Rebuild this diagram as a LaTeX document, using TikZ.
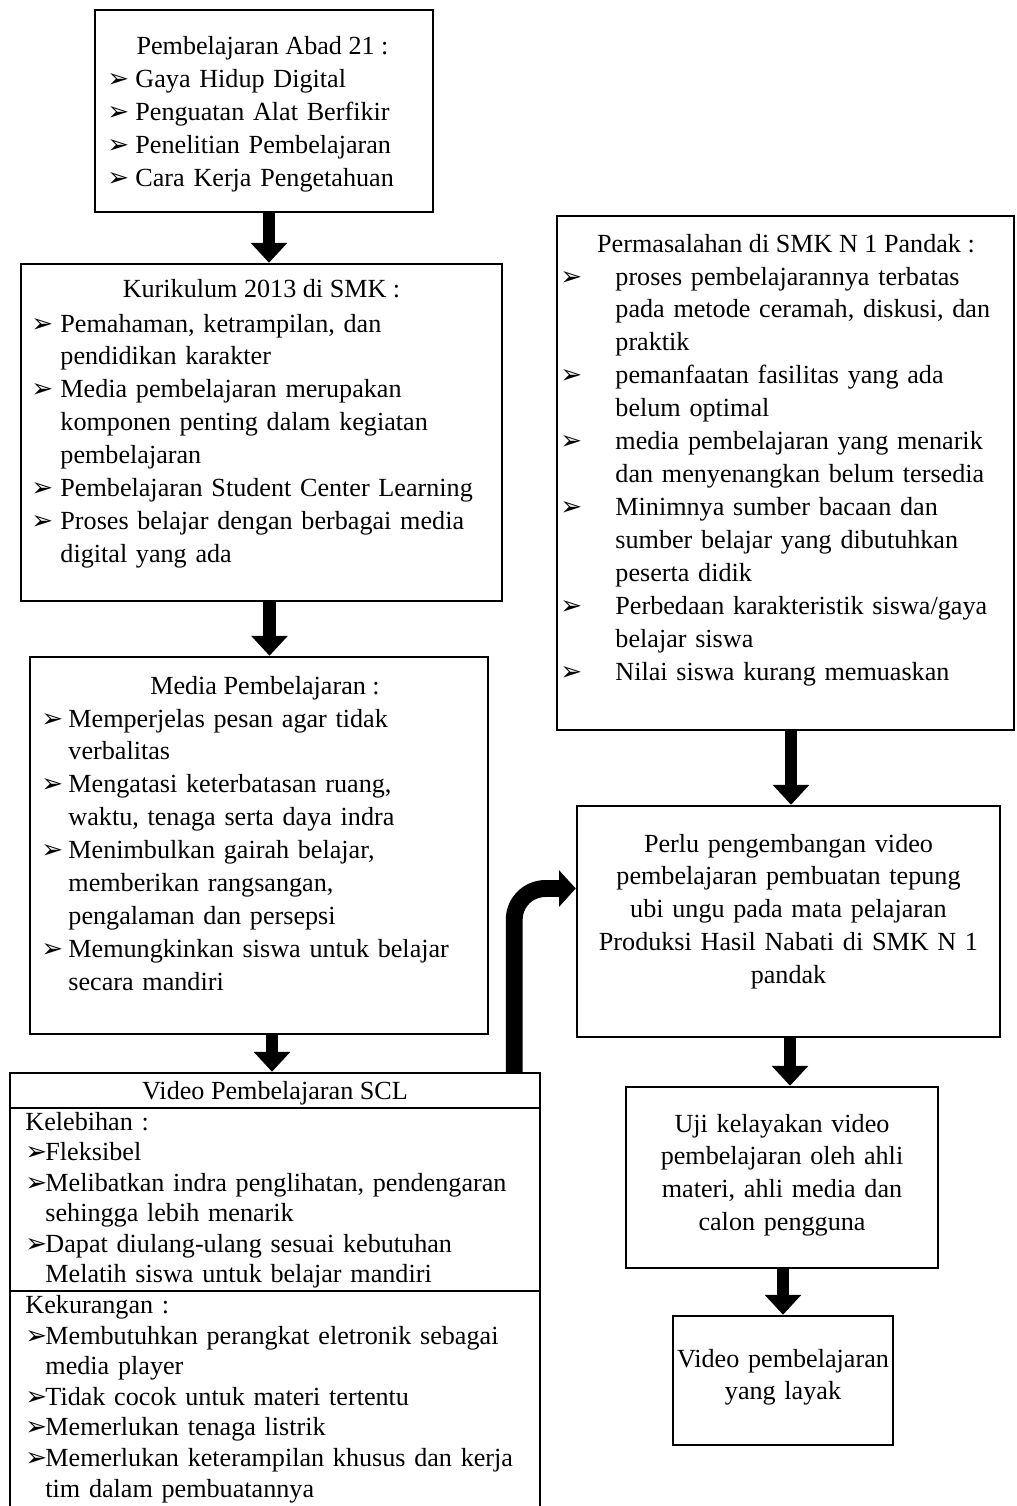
\documentclass[tikz,border=0pt]{standalone}
\usepackage{fontspec}
\setmainfont{Liberation Serif}
\newfontfamily\symfont{DejaVu Sans}
\usepackage{tikz}
\usetikzlibrary{arrows.meta, positioning, fit, calc}

\newlength\pxu \setlength\pxu{0.4494pt}
\newlength\bulw
\newcommand\bul{{\symfont ➢}}
\newcommand\itm{\makebox[\bulw][l]{\bul}}
\newcommand\cnt{\hspace*{\bulw}}

\begin{document}
\begin{tikzpicture}[x=0.4494pt, y=-0.4494pt,
  box/.style={draw, line width=1.1pt, inner sep=0pt},
  ttl/.style={anchor=base, inner sep=0pt,
    font=\fontsize{11.75pt}{14.8pt}\selectfont},
  lst/.style={anchor=base west, inner sep=0pt, text width=600\pxu,
    align=left, font=\fontsize{11.75pt}{14.8pt}\selectfont\setlength\bulw{#1\pxu}},
  lsts/.style={lst=#1,
    font=\fontsize{11.75pt}{13.75pt}\selectfont\setlength\bulw{#1\pxu}},
  ctr/.style={anchor=base, inner sep=0pt, text width=460\pxu,
    align=center, font=\fontsize{11.75pt}{14.8pt}\selectfont},
  blk/.style={line width=5.8pt, -{Triangle[length=9pt, width=16pt]}},
  bendarr/.style={line width=7.6pt, rounded corners=14pt,
    -{Triangle[length=7.5pt, width=16pt]}}
]
  \useasboundingbox (0,0) rectangle (1017,1506);
  % Boxes
  \node[box, fit={(95,10) (433,212)}]     (abad)  {};
  \node[box, fit={(21,264) (502,601)}]    (kur)   {};
  \node[box, fit={(30,657) (488,1034)}]   (media) {};
  \node[box, fit={(557,216) (1014,730)}]  (perm)  {};
  \node[box, fit={(577,806) (1000,1037)}] (perlu) {};
  \node[box, fit={(626,1087) (938,1268)}] (uji)   {};
  \node[box, fit={(673,1316) (893,1445)}] (layak) {};
  \node[box, fit={(10,1073) (540,1530)}]  (scl)   {};
  \draw[line width=1.1pt] (10,1108) -- (540,1108);
  \draw[line width=1.1pt] (10,1291) -- (540,1291);
  % Texts
  \node[ttl] (abadT) at (262.5,55) {Pembelajaran Abad 21 :};
  \node[lst=28] (abadL) at (107,87.5)
    {\itm Gaya Hidup Digital\\
     \itm Penguatan Alat Berfikir\\
     \itm Penelitian Pembelajaran\\
     \itm Cara Kerja Pengetahuan};
  \node[ttl] (kurT) at (261.5,297) {Kurikulum 2013 di SMK :};
  \node[lst=29] (kurL) at (31,332)
    {\itm Pemahaman, ketrampilan, dan\\
     \cnt pendidikan karakter\\
     \itm Media pembelajaran merupakan\\
     \cnt komponen penting dalam kegiatan\\
     \cnt pembelajaran\\
     \itm Pembelajaran Student Center Learning\\
     \itm Proses belajar dengan berbagai media\\
     \cnt digital yang ada};
  \node[ttl] (mediaT) at (265,694) {Media Pembelajaran :};
  \node[lst=27] (mediaL) at (41,727)
    {\itm Memperjelas pesan agar tidak\\
     \cnt verbalitas\\
     \itm Mengatasi keterbatasan ruang,\\
     \cnt waktu, tenaga serta daya indra\\
     \itm Menimbulkan gairah belajar,\\
     \cnt memberikan rangsangan,\\
     \cnt pengalaman dan persepsi\\
     \itm Memungkinkan siswa untuk belajar\\
     \cnt secara mandiri};
  \node[ttl] (permT) at (786,252) {Permasalahan di SMK N 1 Pandak :};
  \node[lst=55] (permL) at (560,285)
    {\itm proses pembelajarannya terbatas\\
     \cnt pada metode ceramah, diskusi, dan\\
     \cnt praktik\\
     \itm pemanfaatan fasilitas yang ada\\
     \cnt belum optimal\\
     \itm media pembelajaran yang menarik\\
     \cnt dan menyenangkan belum tersedia\\
     \itm Minimnya sumber bacaan dan\\
     \cnt sumber belajar yang dibutuhkan\\
     \cnt peserta didik\\
     \itm Perbedaan karakteristik siswa/gaya\\
     \cnt belajar siswa\\
     \itm Nilai siswa kurang memuaskan};
  \node[ctr] (perluL) at (788.5,852)
    {Perlu pengembangan video\\
     pembelajaran pembuatan tepung\\
     ubi ungu pada mata pelajaran\\
     Produksi Hasil Nabati di SMK N 1\\
     pandak};
  \node[ctr] (ujiL) at (782,1132)
    {Uji kelayakan video\\
     pembelajaran oleh ahli\\
     materi, ahli media dan\\
     calon pengguna};
  \node[ctr] (layakL) at (783,1367)
    {Video pembelajaran\\
     yang layak};
  \node[ttl] (sclT) at (275,1099) {Video Pembelajaran SCL};
  \node[lsts=20] (sclL) at (25,1130)
    {Kelebihan :\\
     \itm Fleksibel\\
     \itm Melibatkan indra penglihatan, pendengaran\\
     \cnt sehingga lebih menarik\\
     \itm Dapat diulang-ulang sesuai kebutuhan\\
     \cnt Melatih siswa untuk belajar mandiri\\
     Kekurangan :\\
     \itm Membutuhkan perangkat eletronik sebagai\\
     \cnt media player\\
     \itm Tidak cocok untuk materi tertentu\\
     \itm Memerlukan tenaga listrik\\
     \itm Memerlukan keterampilan khusus dan kerja\\
     \cnt tim dalam pembuatannya};
  % Arrows
  \draw[blk] ($(abad.south)+(5,0)$)    -- ($(abad.south |- kur.north)+(5,0)$);
  \draw[blk] ($(kur.south)+(8,0)$)     -- ($(kur.south |- media.north)+(8,0)$);
  \draw[blk] ($(media.south)+(13,0)$)  -- ($(media.south |- scl.north)+(13,0)$);
  \draw[blk] ($(perm.south)+(5.5,0)$)  -- ($(perm.south |- perlu.north)+(5.5,0)$);
  \draw[blk] ($(perlu.south)+(1.5,0)$) -- ($(perlu.south |- uji.north)+(1.5,0)$);
  \draw[blk] ($(uji.south)+(1,0)$)     -- ($(uji.south |- layak.north)+(1,0)$);
  \draw[bendarr] ($(scl.north east)+(-27,0)$) |- ($(perlu.west)+(0,-33)$);
\end{tikzpicture}
\end{document}
